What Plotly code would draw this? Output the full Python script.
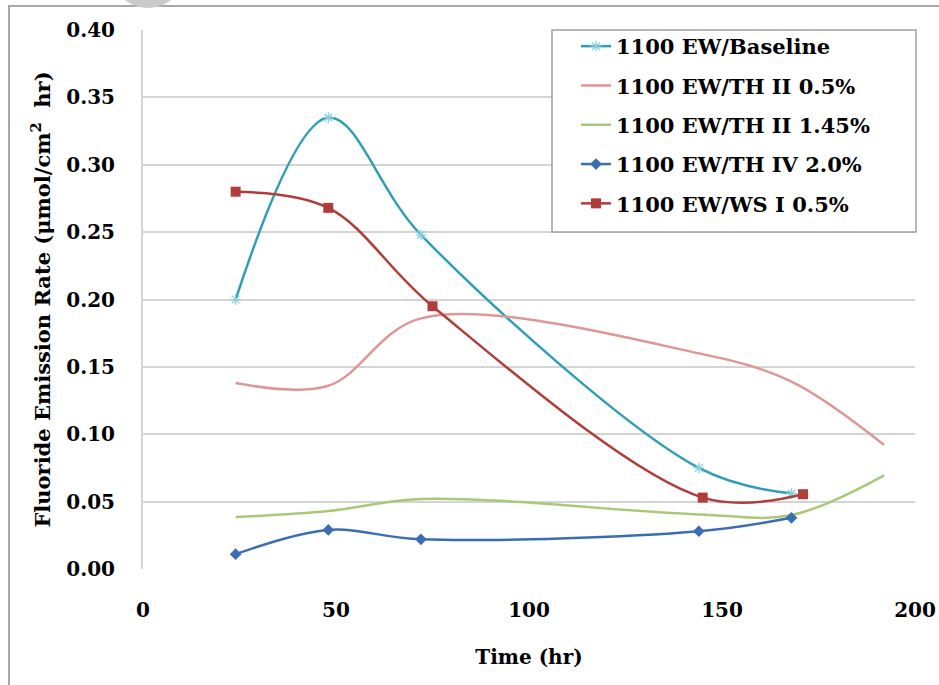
import plotly.graph_objects as go

# Fluoride emission rate measurements over time for each membrane formulation
series_names = [
    "1100 EW/Baseline",
    "1100 EW/TH II 0.5%",
    "1100 EW/TH II 1.45%",
    "1100 EW/TH IV 2.0%",
    "1100 EW/WS I 0.5%",
]

baseline_t = [24, 48, 72, 144, 168]
baseline_fer = [0.200, 0.335, 0.248, 0.075, 0.056]

th2_05_t = [24, 48, 72, 144, 168, 192]
th2_05_fer = [0.138, 0.136, 0.186, 0.160, 0.139, 0.092]

th2_145_t = [24, 48, 72, 144, 168, 192]
th2_145_fer = [0.0385, 0.043, 0.052, 0.0405, 0.040, 0.0695]

th4_20_t = [24, 48, 72, 144, 168]
th4_20_fer = [0.011, 0.029, 0.022, 0.028, 0.038]

ws1_05_t = [24, 48, 75, 145, 171]
ws1_05_fer = [0.280, 0.268, 0.195, 0.053, 0.0555]

x_ticks = [0, 50, 100, 150, 200]
y_ticks = [0.00, 0.05, 0.10, 0.15, 0.20, 0.25, 0.30, 0.35, 0.40]

# Page geometry (pixels)
W, H = 939, 685
ML, MR, MT, MB = 143, 24, 30, 116
PW, PH = W - ML - MR, H - MT - MB


def px(xp):
    return (xp - ML) / PW


def py(yp):
    return (H - MB - yp) / PH


FONT = "DejaVu Serif"

fig = go.Figure()

styles = [
    dict(t=baseline_t, v=baseline_fer, line="#2f9fb6",
         marker=dict(symbol="asterisk-open", size=9, color="#86cfe0",
                     line=dict(width=1.2, color="#86cfe0")), mode="lines+markers"),
    dict(t=th2_05_t, v=th2_05_fer, line="#dc9796", marker=None, mode="lines"),
    dict(t=th2_145_t, v=th2_145_fer, line="#a9c977", marker=None, mode="lines"),
    dict(t=th4_20_t, v=th4_20_fer, line="#3b6db2",
         marker=dict(symbol="diamond", size=9, color="#3b6db2"), mode="lines+markers"),
    dict(t=ws1_05_t, v=ws1_05_fer, line="#b03d3a",
         marker=dict(symbol="square", size=10, color="#b03d3a"), mode="lines+markers"),
]

for i, (name, s) in enumerate(zip(series_names, styles)):
    kw = dict(
        x=s["t"], y=s["v"], name=name, mode=s["mode"],
        line=dict(color=s["line"], width=2.5, shape="spline", smoothing=1.0),
        legendgroup=f"g{i}",
    )
    if s["marker"] is not None:
        kw["marker"] = s["marker"]
    fig.add_trace(go.Scatter(**kw))

shapes = [
    # outer chart frame
    dict(type="line", xref="paper", yref="paper", x0=px(8), x1=px(W + 5), y0=py(6), y1=py(6),
         line=dict(color="#a8a8a8", width=2), layer="below"),
    dict(type="line", xref="paper", yref="paper", x0=px(9), x1=px(9), y0=py(6), y1=py(H + 5),
         line=dict(color="#a8a8a8", width=2), layer="below"),
    # small grey disc at the top edge
    dict(type="circle", xref="paper", yref="paper", x0=px(118), x1=px(178), y0=py(-38), y1=py(8),
         fillcolor="#c9c9c9", line=dict(width=0), layer="below"),
    # legend frame
    dict(type="rect", xref="paper", yref="paper", x0=px(552), x1=px(916), y0=py(232), y1=py(30),
         fillcolor="white", line=dict(color="#a0a0a0", width=1.5), layer="above"),
]

fig.update_layout(
    width=W, height=H,
    margin=dict(l=ML, r=MR, t=MT, b=MB, autoexpand=False),
    paper_bgcolor="white", plot_bgcolor="white",
    font=dict(family=FONT, color="black", size=20),
    shapes=shapes,
    showlegend=True,
    legend=dict(
        x=px(576), y=py(26), xanchor="left", yanchor="top",
        bgcolor="rgba(0,0,0,0)", borderwidth=0,
        font=dict(family=FONT, size=21, color="black", weight="bold"),
        traceorder="grouped", tracegroupgap=9,
        itemwidth=30,
    ),
    xaxis=dict(
        range=[0, 200], tickvals=x_ticks, ticktext=[str(v) for v in x_ticks],
        showgrid=False, zeroline=False,
        showline=False, ticks="",
        tickfont=dict(family=FONT, size=20, weight="bold"),
        ticklabelstandoff=27,
        title=dict(text="Time (hr)", font=dict(family=FONT, size=20, weight="bold"), standoff=28),
    ),
    yaxis=dict(
        range=[0, 0.40], tickvals=y_ticks, ticktext=[f"{v:.2f}" for v in y_ticks],
        showgrid=True, gridcolor="#d4d4d4", gridwidth=2,
        zeroline=False, showline=True, linecolor="#d4d4d4", linewidth=2,
        ticks="", tickfont=dict(family=FONT, size=20, weight="bold"),
        ticklabelstandoff=22,
        title=dict(text="Fluoride Emission Rate (μmol/cm<sup>2</sup>&nbsp; hr)",
                   font=dict(family=FONT, size=21, weight="bold"), standoff=10),
    ),
)

fig.write_html("out.html")
